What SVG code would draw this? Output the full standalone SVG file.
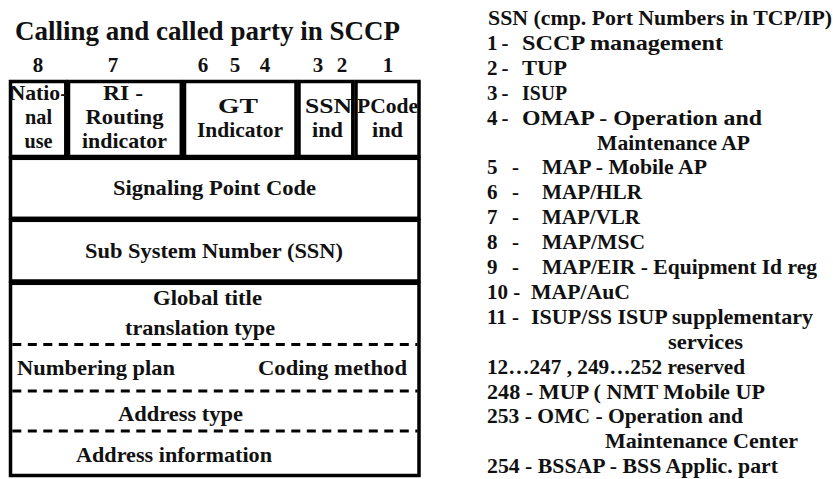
<svg xmlns="http://www.w3.org/2000/svg" width="833" height="479" viewBox="0 0 833 479">
<style>
text{font-family:"Liberation Serif","Times New Roman",serif;font-weight:bold;font-size:21px;fill:#111}
.m{text-anchor:middle}
.t{font-size:27px}
.box{fill:#fff;stroke:#000;stroke-width:3.5}
.dash{stroke:#000;stroke-width:3;stroke-dasharray:9 6.5}
</style>
<rect width="833" height="479" fill="#fff"/>
<text class="t" x="15" y="39.5" textLength="385" lengthAdjust="spacingAndGlyphs">Calling and called party in SCCP</text>
<g id="bit-numbers">
<text class="m" x="38" y="72">8</text>
<text class="m" x="113" y="72">7</text>
<text class="m" x="203" y="72">6</text>
<text class="m" x="235" y="72">5</text>
<text class="m" x="265" y="72">4</text>
<text class="m" x="318" y="72">3</text>
<text class="m" x="342" y="72">2</text>
<text class="m" x="388" y="72">1</text>
</g>
<g id="national-use">
<rect class="box" x="10.5" y="81.5" width="55.3" height="75"/>
<text class="m" x="38.5" y="100" textLength="58" lengthAdjust="spacingAndGlyphs">Natio-</text>
<text class="m" x="38.5" y="124" textLength="27" lengthAdjust="spacingAndGlyphs">nal</text>
<text class="m" x="38.5" y="148" textLength="28" lengthAdjust="spacingAndGlyphs">use</text>
</g>
<g id="routing-indicator">
<rect class="box" x="68.5" y="81.5" width="112.8" height="75"/>
<text class="m" x="123" y="100" textLength="40" lengthAdjust="spacingAndGlyphs">RI -</text>
<text class="m" x="124.5" y="124" textLength="78" lengthAdjust="spacingAndGlyphs">Routing</text>
<text class="m" x="124.5" y="148" textLength="85" lengthAdjust="spacingAndGlyphs">indicator</text>
</g>
<g id="gt-indicator">
<rect class="box" x="184.5" y="81.5" width="111.5" height="75"/>
<text class="m" x="238" y="113" textLength="40" lengthAdjust="spacingAndGlyphs">GT</text>
<text class="m" x="240" y="137" textLength="86" lengthAdjust="spacingAndGlyphs">Indicator</text>
</g>
<g id="ssn-ind">
<rect class="box" x="299" y="81.5" width="53.8" height="75"/>
<text class="m" x="328.5" y="113" textLength="47" lengthAdjust="spacingAndGlyphs">SSN</text>
<text class="m" x="327.5" y="137" textLength="31" lengthAdjust="spacingAndGlyphs">ind</text>
</g>
<g id="pcode-ind">
<rect class="box" x="356" y="81.5" width="63" height="75"/>
<text class="m" x="387.5" y="113" textLength="61" lengthAdjust="spacingAndGlyphs">PCode</text>
<text class="m" x="387.5" y="137" textLength="31" lengthAdjust="spacingAndGlyphs">ind</text>
</g>
<g id="signaling-point-code">
<rect class="box" x="10.5" y="158.3" width="408.5" height="60"/>
<text class="m" x="214.5" y="195" textLength="203" lengthAdjust="spacingAndGlyphs">Signaling Point Code</text>
</g>
<g id="sub-system-number">
<rect class="box" x="10.5" y="220.3" width="408.5" height="60.7"/>
<text class="m" x="214" y="257.5" textLength="258" lengthAdjust="spacingAndGlyphs">Sub System Number (SSN)</text>
</g>
<g id="global-title">
<rect class="box" x="10.5" y="283.3" width="408.5" height="192.2"/>
<text class="m" x="207.5" y="305" textLength="109" lengthAdjust="spacingAndGlyphs">Global title</text>
<text class="m" x="200" y="334.5" textLength="150" lengthAdjust="spacingAndGlyphs">translation type</text>
<line class="dash" x1="12.3" y1="344.5" x2="417.5" y2="344.5"/>
<text x="17" y="375" textLength="158" lengthAdjust="spacingAndGlyphs">Numbering plan</text>
<text x="258" y="375" textLength="149" lengthAdjust="spacingAndGlyphs">Coding method</text>
<line class="dash" x1="12.3" y1="391" x2="417.5" y2="391"/>
<text class="m" x="180.5" y="421" textLength="125" lengthAdjust="spacingAndGlyphs">Address type</text>
<line class="dash" x1="12.3" y1="431" x2="417.5" y2="431"/>
<text class="m" x="174" y="462" textLength="196" lengthAdjust="spacingAndGlyphs">Address information</text>
</g>
<g id="connectors"/>
<g id="ssn-list">
<text x="488" y="25" textLength="344" lengthAdjust="spacingAndGlyphs">SSN (cmp. Port Numbers in TCP/IP)</text>
<text x="487" y="49.9">1</text><text x="501.5" y="49.9">-</text>
<text x="522" y="49.9" textLength="201" lengthAdjust="spacingAndGlyphs">SCCP management</text>
<text x="487" y="74.8">2</text><text x="501.5" y="74.8">-</text>
<text x="522" y="74.8" textLength="45" lengthAdjust="spacingAndGlyphs">TUP</text>
<text x="487" y="99.7">3</text><text x="501.5" y="99.7">-</text>
<text x="522" y="99.7" textLength="45" lengthAdjust="spacingAndGlyphs">ISUP</text>
<text x="487" y="124.6">4</text><text x="501.5" y="124.6">-</text>
<text x="522" y="124.6" textLength="240" lengthAdjust="spacingAndGlyphs">OMAP - Operation and</text>
<text x="597" y="149.5" textLength="153" lengthAdjust="spacingAndGlyphs">Maintenance AP</text>
<text x="487" y="174.4">5</text><text x="512" y="174.4">-</text>
<text x="542" y="174.4" textLength="165" lengthAdjust="spacingAndGlyphs">MAP - Mobile AP</text>
<text x="487" y="199.3">6</text><text x="512" y="199.3">-</text>
<text x="542" y="199.3" textLength="100" lengthAdjust="spacingAndGlyphs">MAP/HLR</text>
<text x="487" y="224.2">7</text><text x="512" y="224.2">-</text>
<text x="542" y="224.2" textLength="98" lengthAdjust="spacingAndGlyphs">MAP/VLR</text>
<text x="487" y="249.1">8</text><text x="512" y="249.1">-</text>
<text x="542" y="249.1" textLength="103" lengthAdjust="spacingAndGlyphs">MAP/MSC</text>
<text x="487" y="274">9</text><text x="512" y="274">-</text>
<text x="542" y="274" textLength="275" lengthAdjust="spacingAndGlyphs">MAP/EIR - Equipment Id reg</text>
<text x="487" y="298.9">10 -</text>
<text x="531" y="298.9" textLength="99" lengthAdjust="spacingAndGlyphs">MAP/AuC</text>
<text x="487" y="323.8">11 -</text>
<text x="531" y="323.8" textLength="282" lengthAdjust="spacingAndGlyphs">ISUP/SS ISUP supplementary</text>
<text x="668" y="348.7" textLength="75" lengthAdjust="spacingAndGlyphs">services</text>
<text x="487" y="373.6" textLength="258" lengthAdjust="spacingAndGlyphs">12…247 , 249…252 reserved</text>
<text x="487" y="398.5" textLength="278" lengthAdjust="spacingAndGlyphs">248 - MUP ( NMT Mobile UP</text>
<text x="487" y="423.4" textLength="256" lengthAdjust="spacingAndGlyphs">253 - OMC - Operation and</text>
<text x="605" y="448.3" textLength="193" lengthAdjust="spacingAndGlyphs">Maintenance Center</text>
<text x="487" y="473.2" textLength="291" lengthAdjust="spacingAndGlyphs">254 - BSSAP - BSS Applic. part</text>
</g>
</svg>
